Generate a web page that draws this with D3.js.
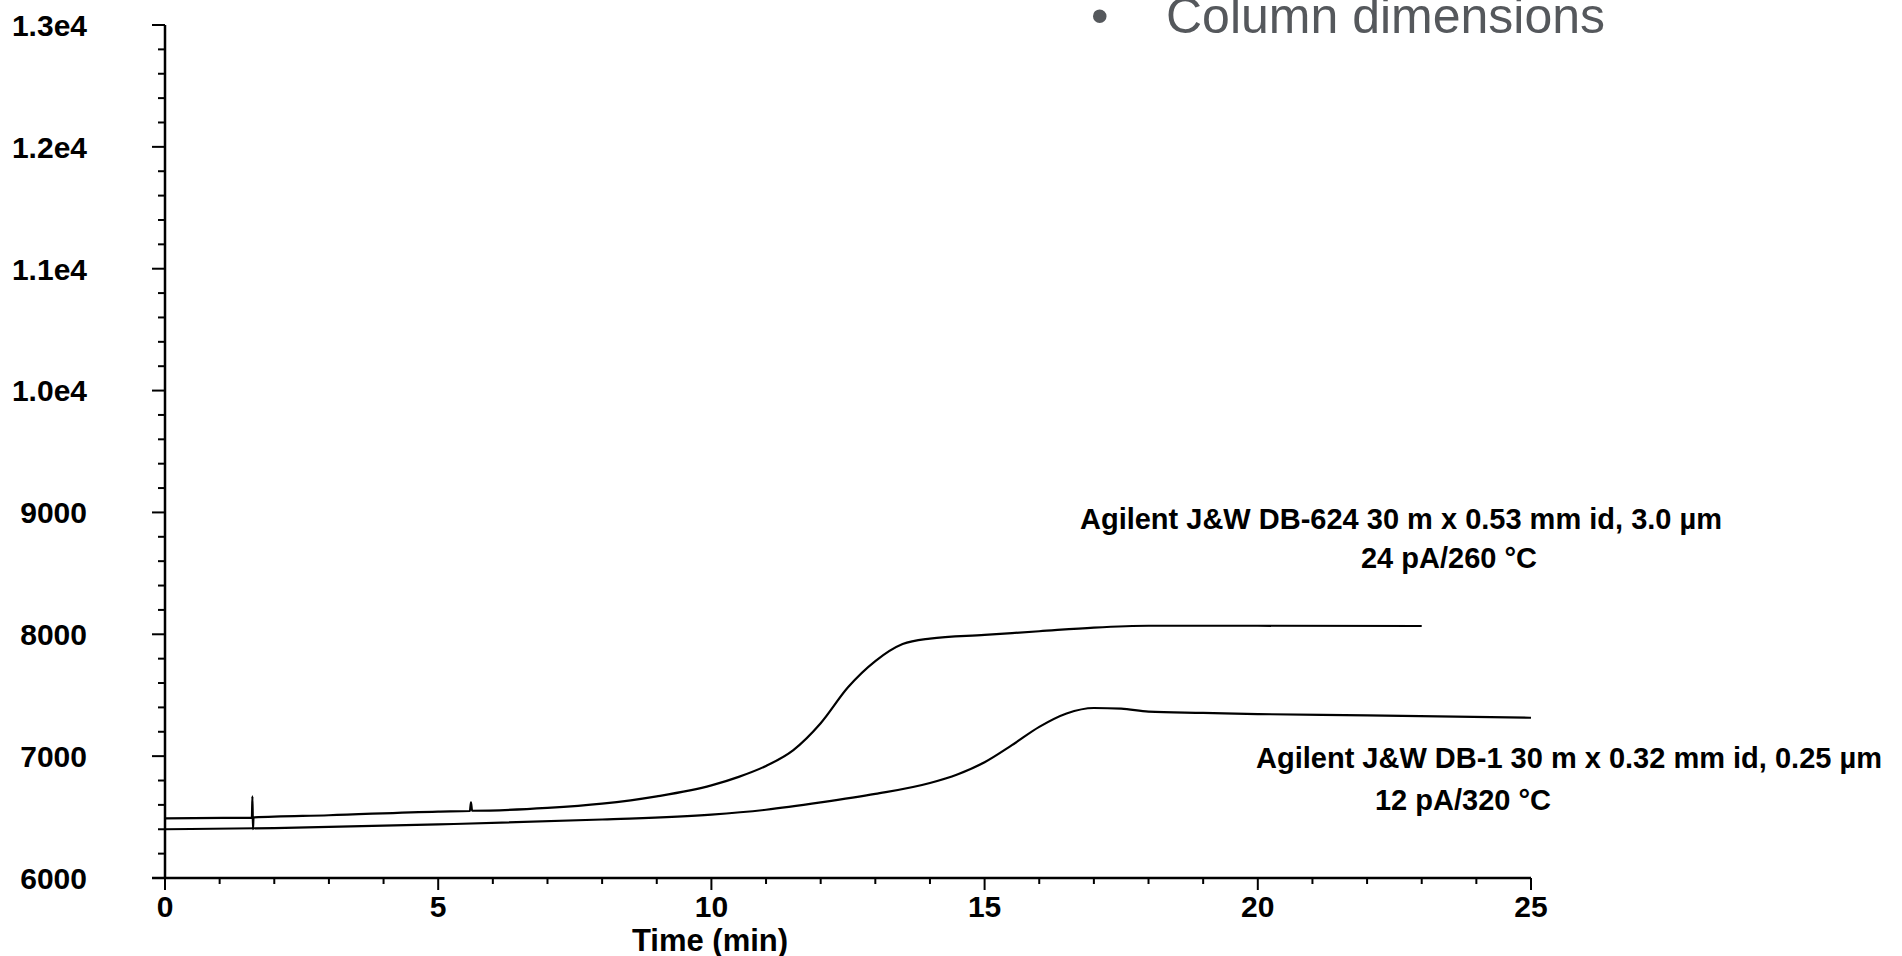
<!DOCTYPE html>
<html>
<head>
<meta charset="utf-8">
<script src="https://cdn.jsdelivr.net/npm/d3@7"></script>
<style>
  body { margin: 0; background: #fff; overflow: hidden; }
  text { font-family: "Liberation Sans", Arial, sans-serif; }
</style>
</head>
<body>
<div id="chart"></div>
<script>
// DB-624 trace (time min, signal)
const db624Time = [0, 1.59, 1.6, 1.61, 1.62, 3, 5, 5.58, 5.6, 5.62, 7, 8, 9, 10, 10.5, 11, 11.5, 12, 12.5, 13, 13.5, 14, 15, 16, 17, 18, 20, 23];
const db624Val  = [6490, 6495, 6670, 6400, 6497, 6515, 6545, 6550, 6620, 6552, 6575, 6610, 6670, 6760, 6830, 6920, 7050, 7270, 7565, 7780, 7920, 7965, 7995, 8025, 8055, 8070, 8070, 8068];
// DB-1 trace
const db1Time = [0, 2, 5, 8, 10, 11, 12, 13, 14, 14.5, 15, 15.5, 16, 16.5, 17, 17.5, 18, 19, 20, 22, 25];
const db1Val  = [6400, 6410, 6440, 6480, 6520, 6560, 6620, 6690, 6780, 6850, 6950, 7090, 7240, 7350, 7395, 7390, 7365, 7355, 7345, 7335, 7315];

const yTicks = [6000, 7000, 8000, 9000, 10000, 11000, 12000, 13000];
const yTickLabels = ["6000", "7000", "8000", "9000", "1.0e4", "1.1e4", "1.2e4", "1.3e4"];
const xTicks = [0, 5, 10, 15, 20, 25];

const width = 1902, height = 956;
const svg = d3.select("#chart").append("svg")
  .attr("width", width).attr("height", height);

const x = d3.scaleLinear().domain([0, 25]).range([165, 1531]);
const y = d3.scaleLinear().domain([6000, 13000]).range([878, 25]);

// minor ticks
svg.append("g").selectAll("line").data(d3.range(6000, 13001, 200)).join("line")
  .attr("x1", x(0)).attr("x2", d => x(0) - (d % 1000 === 0 ? 13 : 7))
  .attr("y1", d => y(d)).attr("y2", d => y(d))
  .attr("stroke", "#000").attr("stroke-width", 2);
svg.append("g").selectAll("line").data(d3.range(0, 26, 1)).join("line")
  .attr("x1", d => x(d)).attr("x2", d => x(d))
  .attr("y1", y(6000)).attr("y2", d => y(6000) + (d % 5 === 0 ? 12 : 6))
  .attr("stroke", "#000").attr("stroke-width", 2);

// axis lines
svg.append("line").attr("x1", x(0)).attr("x2", x(0)).attr("y1", y(13000)).attr("y2", y(6000))
  .attr("stroke", "#000").attr("stroke-width", 2.5);
svg.append("line").attr("x1", x(0) - 13).attr("x2", x(25)).attr("y1", y(6000)).attr("y2", y(6000))
  .attr("stroke", "#000").attr("stroke-width", 2.5);

// labels
svg.append("g").selectAll("text").data(yTicks).join("text")
  .attr("x", 87).attr("y", d => y(d)).attr("dy", "0.36em")
  .attr("text-anchor", "end").attr("font-size", 30).attr("font-weight", "bold")
  .text((d, i) => yTickLabels[i]);
svg.append("g").selectAll("text").data(xTicks).join("text")
  .attr("x", d => x(d)).attr("y", 917)
  .attr("text-anchor", "middle").attr("font-size", 30).attr("font-weight", "bold")
  .text(d => d);
svg.append("text").attr("x", 710).attr("y", 951)
  .attr("text-anchor", "middle").attr("font-size", 31).attr("font-weight", "bold")
  .text("Time (min)");

// traces
const line = d3.line().curve(d3.curveMonotoneX).x(d => x(d[0])).y(d => y(d[1]));
[[db624Time, db624Val], [db1Time, db1Val]].forEach(([t, v]) => {
  svg.append("path").datum(t.map((d, i) => [d, v[i]]))
    .attr("d", line).attr("fill", "none").attr("stroke", "#000").attr("stroke-width", 2.2);
});

// annotations
const ann = [
  {x: 1401, y: 529, t: "Agilent J&W DB-624 30 m x 0.53 mm id, 3.0 µm"},
  {x: 1449, y: 568, t: "24 pA/260 °C"},
  {x: 1569, y: 768, t: "Agilent J&W DB-1 30 m x 0.32 mm id, 0.25 µm"},
  {x: 1463, y: 810, t: "12 pA/320 °C"}
];
svg.append("g").selectAll("text").data(ann).join("text")
  .attr("x", d => d.x).attr("y", d => d.y)
  .attr("text-anchor", "middle").attr("font-size", 29).attr("font-weight", "bold")
  .text(d => d.t);

// slide bullet text cut at the top
svg.append("text").attr("x", 1091).attr("y", 33).attr("font-size", 50).attr("fill", "#55585c")
  .text("•");
svg.append("text").attr("x", 1166).attr("y", 33).attr("font-size", 50).attr("fill", "#55585c")
  .text("Column dimensions");
</script>
</body>
</html>
